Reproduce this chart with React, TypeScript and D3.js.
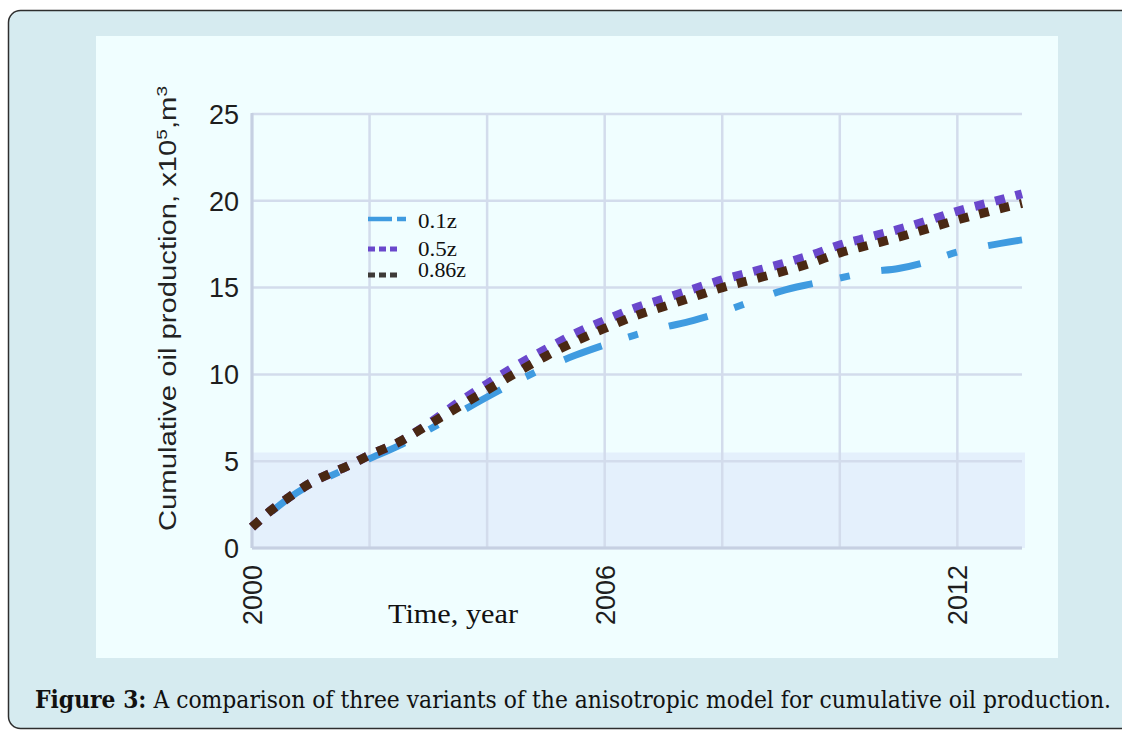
import React from "react";
import { scaleLinear, line, curveMonotoneX } from "d3";

const years = [2000, 2000.3, 2000.6, 2001, 2001.3, 2001.6, 2002, 2002.5, 2003, 2003.5, 2004, 2004.5, 2005, 2005.5, 2006, 2006.5, 2007, 2007.5, 2008, 2008.5, 2009, 2009.5, 2010, 2010.5, 2011, 2011.5, 2012, 2012.5, 2013.1];
const z01 = [1.15, 2.0, 2.8, 3.65, 4.1, 4.55, 5.15, 5.9, 6.8, 7.75, 8.7, 9.6, 10.4, 11.1, 11.7, 12.25, 12.7, 13.1, 13.6, 14.2, 14.8, 15.2, 15.55, 15.9, 16.1, 16.5, 17.05, 17.4, 17.75];
const z05 = [1.2, 2.1, 2.85, 3.75, 4.25, 4.68, 5.35, 6.1, 7.15, 8.35, 9.45, 10.5, 11.45, 12.35, 13.1, 13.8, 14.35, 14.9, 15.45, 15.9, 16.35, 16.85, 17.45, 17.9, 18.35, 18.85, 19.4, 19.85, 20.4];
const z086 = [1.2, 2.1, 2.85, 3.75, 4.25, 4.68, 5.35, 6.1, 7.1, 8.1, 9.1, 10.1, 11.05, 11.9, 12.65, 13.35, 13.9, 14.45, 15.0, 15.45, 15.9, 16.4, 17.0, 17.45, 17.9, 18.4, 18.9, 19.35, 19.85];

const seriesNames = ["0.1z", "0.5z", "0.86z"];
const yTicks = [0, 5, 10, 15, 20, 25];
const xGrid = [2000, 2002, 2004, 2006, 2008, 2010, 2012];
const xLabels = [2000, 2006, 2012];

const W = 1122;
const H = 732;

export default function App() {
  const x = scaleLinear().domain([2000, 2013.1]).range([252, 1022]);
  const y = scaleLinear().domain([0, 25]).range([548, 114]);

  const mk = (vals: number[]) =>
    line<number>()
      .x((d, i) => x(years[i]))
      .y((d) => y(d))
      .curve(curveMonotoneX)(vals) || "";

  const legendY = [219, 249, 275];
  const legendText = [228, 256, 277];

  return (
    <svg width={W} height={H} style={{ position: "absolute", left: 0, top: 0 }}>
      {/* outer figure box */}
      <rect x={0} y={0} width={W} height={H} fill="#ffffff" />
      <rect x={8.5} y={10.5} width={1140} height={718} rx={12} fill="#d6ebf0" stroke="#2e2e2e" strokeWidth={1.5} />
      <rect x={96} y={36} width={962} height={622} fill="#f0feff" />

      {/* lower shaded band */}
      <rect x={x(2000)} y={y(5.5)} width={x.range()[1] - x(2000) + 3} height={y(0) - y(5.5)} fill="#e4f0fc" />

      {/* grid */}
      {yTicks.map((t) => (
        <line key={"gy" + t} x1={x(2000)} x2={x.range()[1]} y1={y(t)} y2={y(t)} stroke="#d3dcec" strokeWidth={2.5} />
      ))}
      {xGrid.map((t) => (
        <line key={"gx" + t} x1={x(t)} x2={x(t)} y1={y(25)} y2={y(0)} stroke="#d3dcec" strokeWidth={2.5} />
      ))}
      <line x1={x(2000)} x2={x(2000)} y1={y(25) - 1} y2={y(0)} stroke="#c6d0e2" strokeWidth={3} />
      <line x1={x(2000)} x2={x.range()[1]} y1={y(0)} y2={y(0)} stroke="#c6d0e2" strokeWidth={3} />

      {/* series */}
      <path d={mk(z01)} fill="none" stroke="#3f9be0" strokeWidth={7} strokeDasharray="40,28,10,32" strokeDashoffset={84} />
      <path d={mk(z05)} fill="none" stroke="#6a48cc" strokeWidth={9} strokeDasharray="10,11" />
      <path d={mk(z086)} fill="none" stroke="#4a2813" strokeWidth={9} strokeDasharray="10,11" />

      {/* y tick labels */}
      {yTicks.map((t) => (
        <text key={"ty" + t} x={239} y={y(t)} dy="0.36em" textAnchor="end" fontFamily="'Liberation Sans', Arial, sans-serif" fontSize={27} fill="#1e1e1e">
          {t}
        </text>
      ))}
      {/* x tick labels */}
      {xLabels.map((t) => (
        <text key={"tx" + t} transform={`translate(${x(t) + 10},565) rotate(-90)`} textAnchor="end" fontFamily="'Liberation Sans', Arial, sans-serif" fontSize={27} fill="#1e1e1e">
          {t}
        </text>
      ))}

      {/* axis titles */}
      <text transform="translate(176,531) rotate(-90)" fontFamily="'Liberation Sans', Arial, sans-serif" fontSize={23} fill="#222" textLength={445} lengthAdjust="spacingAndGlyphs">
        Cumulative oil production, x10<tspan fontSize={15} dy={-9}>5</tspan><tspan dy={9}>,m</tspan><tspan fontSize={15} dy={-9}>3</tspan>
      </text>
      <text x={388} y={623} fontFamily="'Liberation Serif', 'Times New Roman', serif" fontSize={28} fill="#111" textLength={130} lengthAdjust="spacingAndGlyphs">
        Time, year
      </text>

      {/* legend */}
      <line x1={368} x2={392} y1={legendY[0]} y2={legendY[0]} stroke="#3f9be0" strokeWidth={4.5} />
      <line x1={397} x2={406} y1={legendY[0]} y2={legendY[0]} stroke="#3f9be0" strokeWidth={4.5} />
      <line x1={368} x2={399} y1={legendY[1]} y2={legendY[1]} stroke="#6a48cc" strokeWidth={5} strokeDasharray="7,4" />
      <line x1={368} x2={400} y1={legendY[2]} y2={legendY[2]} stroke="#3e3b38" strokeWidth={5} strokeDasharray="7,4" />
      {seriesNames.map((n, i) => (
        <text key={n} x={418} y={legendText[i]} fontFamily="'Liberation Serif', 'Times New Roman', serif" fontSize={20} fill="#111" textLength={n.length > 4 ? 48 : 39} lengthAdjust="spacingAndGlyphs">
          {n}
        </text>
      ))}

      {/* caption */}
      <text transform="translate(35,708) scale(1,1.15)" fontFamily="'DejaVu Serif', serif" fontSize={21} fill="#111" textLength={1076} lengthAdjust="spacingAndGlyphs">
        <tspan fontWeight="bold">Figure 3:</tspan> A comparison of three variants of the anisotropic model for cumulative oil production.
      </text>
    </svg>
  );
}
